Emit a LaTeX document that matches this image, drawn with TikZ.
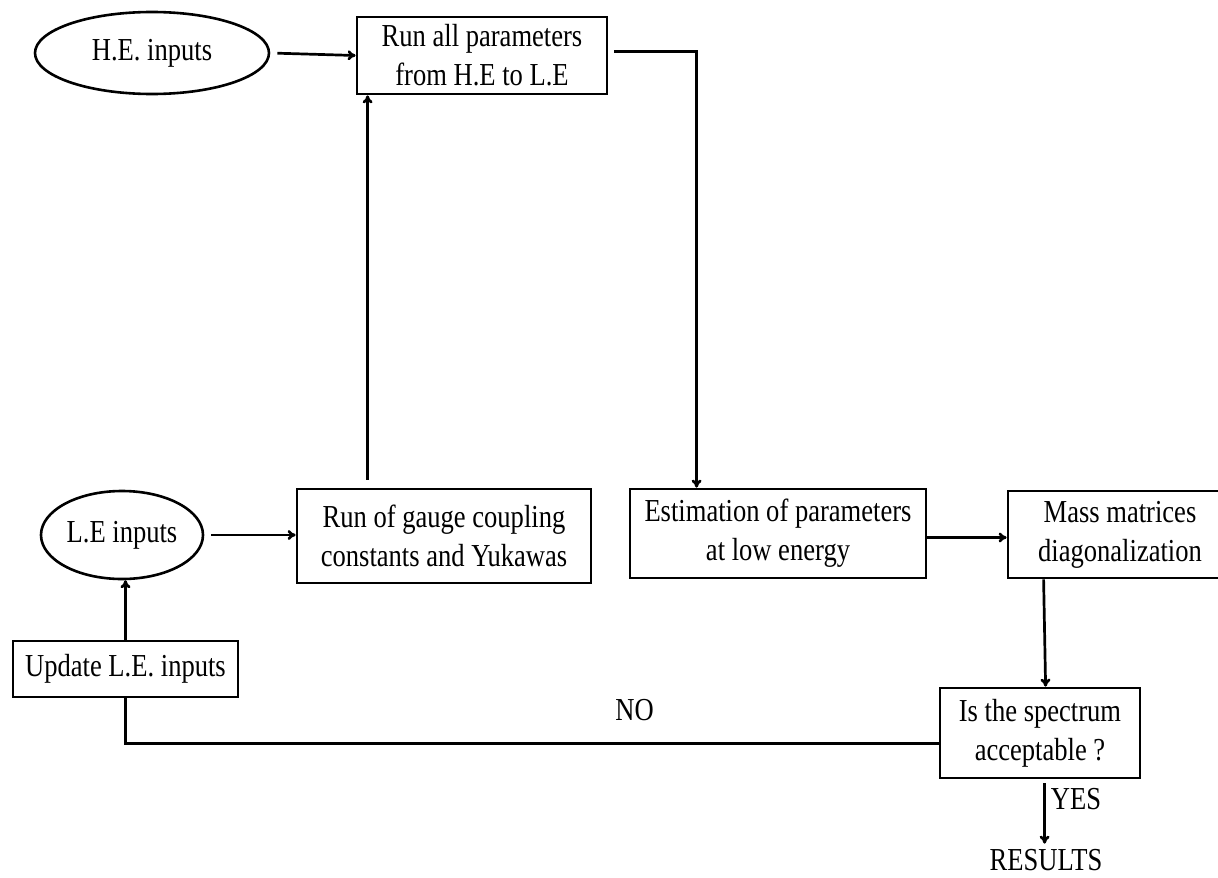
\documentclass[tikz,border=0pt]{standalone}
\usepackage{fontspec}
\setmainfont{Liberation Serif}[FakeStretch=0.83]
\usepackage{tikz}
\usetikzlibrary{positioning,shapes,arrows,arrows.meta,calc}
\tikzstyle{arrow}=[-{To[length=8pt,width=10pt]}, line width=2.7pt]
\tikzstyle{link}=[line width=2.7pt]
\tikzstyle{stepbox}=[draw, rectangle, line width=2.8pt, inner sep=0pt, align=center]
\tikzstyle{inbox}=[draw, ellipse, line width=2.6pt, inner sep=0pt, align=center]

\begin{document}
\begin{tikzpicture}[x=1pt, y=-1pt, font=\fontsize{32}{39}\selectfont]
	  \useasboundingbox (0,0) rectangle (1218,878);
	  % inputs
	  \node[inbox, minimum width=234pt, minimum height=82pt] (he) at (152,53) {H.E. inputs};
	  \node[inbox, minimum width=162pt, minimum height=88pt] (le) at (122,535) {L.E inputs};
	  % steps
	  \node[stepbox, minimum width=250pt, minimum height=77pt] (runall) at (482,55.5) {Run all parameters\\from H.E to L.E};
	  \node[stepbox, minimum width=294pt, minimum height=94pt] (gauge) at (444,536) {Run of gauge coupling\\constants and Yukawas};
	  \node[stepbox, minimum width=296pt, minimum height=89pt] (est) at (778,533.5) {Estimation of parameters\\at low energy};
	  \node[stepbox, minimum width=224pt, minimum height=87pt] (mass) at (1120,534.5) {Mass matrices\\diagonalization};
	  \node[stepbox, minimum width=200pt, minimum height=90pt] (spec) at (1040,733) {Is the spectrum\\acceptable ?};
	  \node[stepbox, minimum width=225pt, minimum height=56pt] (update) at (125.5,669) {Update L.E. inputs};
	  \node[anchor=base, inner sep=0pt] (res) at (1046,870) {RESULTS};
	  \coordinate (turn) at ([yshift=-10.5pt]spec.west -| update.south);

	  % connectors
	  \draw[arrow, shorten <=7pt] (he.east) -- (runall.west);
	  \draw[arrow, shorten <=7pt] (le.east) -- (le.east -| gauge.west);
	  \draw[arrow] (update.north) -- (update.north |- le.south);
	  \draw[arrow, shorten <=8pt] ([xshift=72pt]gauge.north west) -- ([xshift=72pt]gauge.north west |- runall.south);
	  \draw[arrow, shorten <=6pt] ([yshift=4pt]runall.east) -| ([xshift=68pt]est.north west);
	  \draw[arrow] ([yshift=-4pt]est.east) -- ([yshift=-4pt]est.east -| mass.west);
	  \draw[arrow] ([xshift=37pt]mass.south west) -- ([xshift=107pt]spec.north west);
	  \draw[arrow, shorten <=4pt, shorten >=5pt] ([xshift=106pt]spec.south west) -- node[right, pos=0.28, inner sep=5pt] {YES} ([xshift=106pt]spec.south west |- res.north);
	  \draw[link] ([yshift=-10.5pt]spec.west) -- node[above=18pt, pos=0.374] {NO} (turn) -- (update.south);
	\end{tikzpicture}
\end{document}
